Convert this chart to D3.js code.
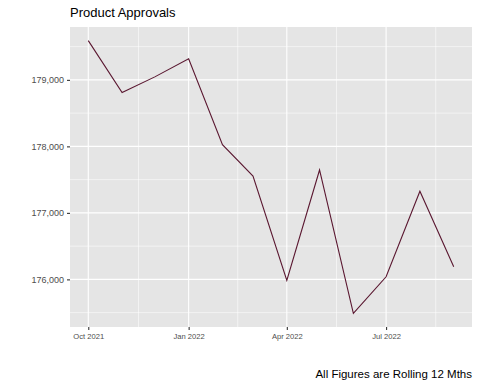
<!DOCTYPE html>
<html>
<head>
<meta charset="utf-8">
<script src="https://cdn.jsdelivr.net/npm/d3@7"></script>
<style>
  body { margin: 0; background: #fff; }
  svg { display: block; font-family: "Liberation Sans", Arial, sans-serif; }
</style>
</head>
<body>
<div id="chart"></div>
<script>
const months = ["2021-10", "2021-11", "2021-12", "2022-01", "2022-02", "2022-03",
    "2022-04", "2022-05", "2022-06", "2022-07", "2022-08", "2022-09"];
const approvals = [179590, 178810, 179045, 179316, 178025, 177553,
    175985, 177645, 175489, 176039, 177326, 176189];
const yTicks = [176000, 177000, 178000, 179000];
const xTicks = ["2021-10", "2022-01", "2022-04", "2022-07"];

const width = 480, height = 384;
const margin = {top: 27, right: 8, bottom: 57, left: 70};
const pw = width - margin.left - margin.right;
const ph = height - margin.top - margin.bottom;

const parse = d3.timeParse("%Y-%m");
const data = months.map((m, i) => ({date: parse(m), value: approvals[i]}));

let svg = d3.select("#chart")
    .append("svg")
    .attr("width", width)
    .attr("height", height);

let g = svg.append("g")
    .attr("transform", `translate(${margin.left}, ${margin.top})`);

// ggplot style 5% expansion
let xExt = d3.extent(data, d => d.date);
let xPad = (xExt[1] - xExt[0]) * 0.05;
let x = d3.scaleTime()
    .domain([new Date(+xExt[0] - xPad), new Date(+xExt[1] + xPad)])
    .range([0, pw]);

let yExt = d3.extent(data, d => d.value);
let yPad = (yExt[1] - yExt[0]) * 0.05;
let y = d3.scaleLinear()
    .domain([yExt[0] - yPad, yExt[1] + yPad])
    .range([ph, 0]);

g.append("rect")
    .attr("width", pw)
    .attr("height", ph)
    .attr("fill", "#e5e5e5");

// minor grid: midpoints between major breaks
let xMajor = xTicks.map(parse);
let xMinor = [];
for (let i = 0; i < xMajor.length; i++) {
    let next = i + 1 < xMajor.length ? +xMajor[i + 1] : 2 * +xMajor[i] - +xMajor[i - 1];
    xMinor.push(new Date((+xMajor[i] + next) / 2));
}
let yMinor = [175500, 176500, 177500, 178500, 179500];

g.selectAll(".xminor").data(xMinor).enter().append("line")
    .attr("x1", d => x(d)).attr("x2", d => x(d))
    .attr("y1", 0).attr("y2", ph)
    .attr("stroke", "#fff").attr("stroke-width", 0.55);

g.selectAll(".yminor").data(yMinor).enter().append("line")
    .attr("x1", 0).attr("x2", pw)
    .attr("y1", d => y(d)).attr("y2", d => y(d))
    .attr("stroke", "#fff").attr("stroke-width", 0.55);

g.selectAll(".xmajor").data(xMajor).enter().append("line")
    .attr("x1", d => x(d)).attr("x2", d => x(d))
    .attr("y1", 0).attr("y2", ph)
    .attr("stroke", "#fff").attr("stroke-width", 1.1);

g.selectAll(".ymajor").data(yTicks).enter().append("line")
    .attr("x1", 0).attr("x2", pw)
    .attr("y1", d => y(d)).attr("y2", d => y(d))
    .attr("stroke", "#fff").attr("stroke-width", 1.1);

let line = d3.line()
    .x(d => x(d.date))
    .y(d => y(d.value));

g.append("path")
    .datum(data)
    .attr("d", line)
    .attr("fill", "none")
    .attr("stroke", "#5a1730")
    .attr("stroke-width", 1.1);

// axes
let xAxis = g.append("g")
    .attr("transform", `translate(0, ${ph})`)
    .call(d3.axisBottom(x)
        .tickValues(xMajor)
        .tickSize(3)
        .tickPadding(4)
        .tickFormat(d3.timeFormat("%b %Y")));
xAxis.select(".domain").remove();
xAxis.selectAll("line").attr("stroke", "#333").attr("stroke-width", 1.1);
xAxis.selectAll("text")
    .attr("fill", "#4d4d4d")
    .style("font-size", "7.6px")
    .style("font-family", "Liberation Sans, Arial, sans-serif");

let yAxis = g.append("g")
    .call(d3.axisLeft(y)
        .tickValues(yTicks)
        .tickSize(3)
        .tickPadding(3)
        .tickFormat(d3.format(",")));
yAxis.select(".domain").remove();
yAxis.selectAll("line").attr("stroke", "#333").attr("stroke-width", 1.1);
yAxis.selectAll("text")
    .attr("fill", "#4d4d4d")
    .style("font-size", "9px")
    .style("font-family", "Liberation Sans, Arial, sans-serif");

svg.append("text")
    .attr("x", margin.left)
    .attr("y", 17)
    .style("font-size", "13px")
    .attr("fill", "#000")
    .text("Product Approvals");

svg.append("text")
    .attr("x", width - margin.right)
    .attr("y", 378)
    .attr("text-anchor", "end")
    .style("font-size", "11.5px")
    .attr("fill", "#000")
    .text("All Figures are Rolling 12 Mths");
</script>
</body>
</html>
